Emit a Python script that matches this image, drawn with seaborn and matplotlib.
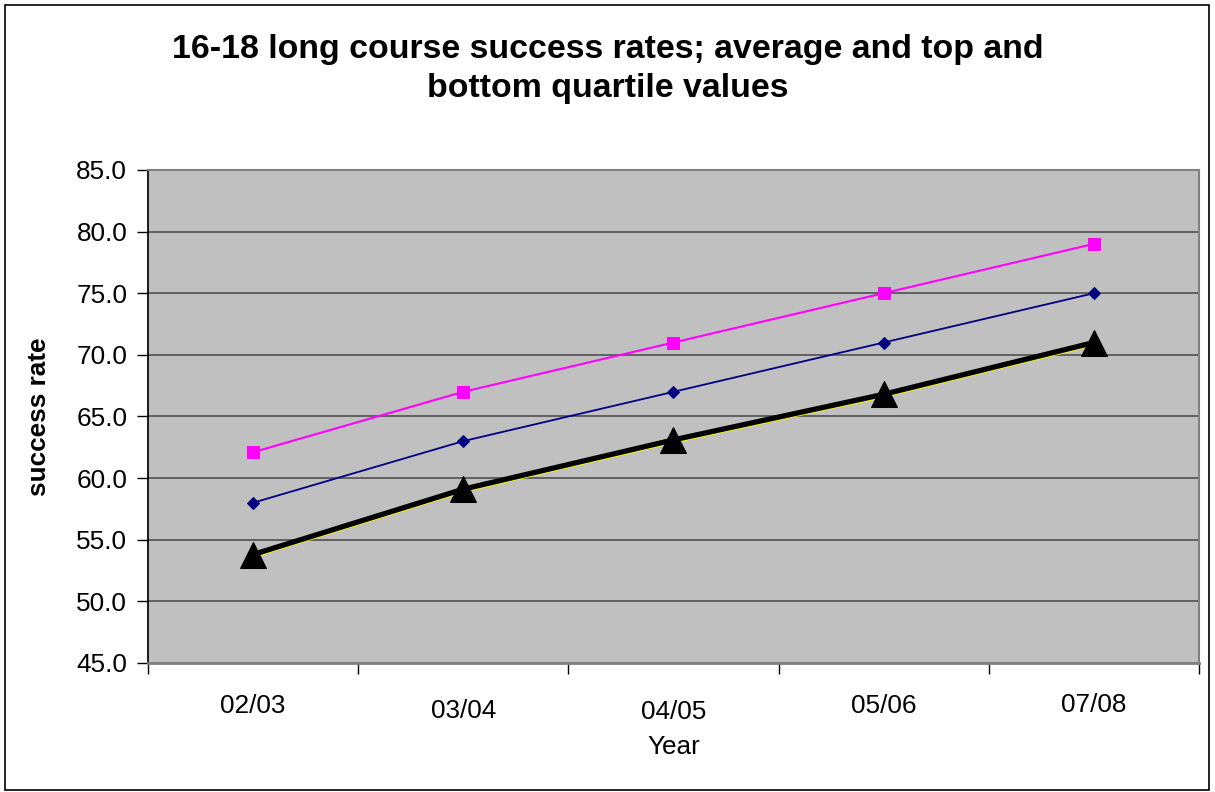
import matplotlib
matplotlib.use("Agg")
import matplotlib.pyplot as plt
import matplotlib.transforms as mtransforms
import seaborn as sns
import pandas as pd

years = ["02/03", "03/04", "04/05", "05/06", "07/08"]
top_quartile = [62.1, 67.0, 71.0, 75.0, 79.0]
average = [58.0, 63.0, 67.0, 71.0, 75.0]
bottom_quartile = [53.8, 59.1, 63.1, 66.8, 71.0]
college = [53.6, 58.9, 62.9, 66.6, 70.8]

sns.set_theme(style="white")
plt.rcParams["font.family"] = ["Liberation Sans", "DejaVu Sans"]
plt.rcParams["text.color"] = "black"
plt.rcParams["axes.labelcolor"] = "black"
plt.rcParams["xtick.color"] = "black"
plt.rcParams["ytick.color"] = "black"

fig = plt.figure(figsize=(12.15, 7.92), dpi=100)
ax = fig.add_axes([0.1218, 0.1629, 0.865, 0.6225])
ax.set_facecolor("#C0C0C0")

pos = list(range(len(years)))
series = [
    (college, "#FFFF00", 1.5, "^", 15),
    (top_quartile, "#FF00FF", 1.5, "s", 8),
    (average, "#000080", 1.3, "D", 6),
    (bottom_quartile, "#000000", 3.8, "^", 19),
]
for vals, col, lw, mk, ms in series:
    df = pd.DataFrame({"pos": pos, "val": vals})
    sns.lineplot(data=df, x="pos", y="val", ax=ax, color=col, linewidth=lw,
                 marker=mk, markersize=ms, markeredgecolor=col,
                 markerfacecolor=col, zorder=3)

ax.set_xlim(-0.5, len(years) - 0.5)
ax.set_ylim(45, 85)
ax.set_yticks(range(45, 90, 5))
ax.set_yticklabels([f"{v:.1f}" for v in range(45, 90, 5)], fontsize=18.8)
ax.yaxis.grid(True, color="#606060", linewidth=1.4)
ax.set_axisbelow(True)

# category axis: ticks at boundaries, labels at centres
ax.set_xticks([p - 0.5 for p in pos] + [len(years) - 0.5])
ax.set_xticklabels([])
ax.set_xticks(pos, minor=True)
ax.set_xticklabels(years, minor=True, fontsize=18.8)
ax.tick_params(axis="x", which="major", direction="out", length=8, width=1,
               color="black", bottom=True)
ax.tick_params(axis="x", which="minor", length=0, pad=22)
ax.tick_params(axis="y", direction="out", length=8, width=1, color="black",
               left=True, pad=7)
offsets = [0, 5, 6, 0, -1]
for lab, off in zip(ax.get_xticklabels(minor=True), offsets):
    lab.set_transform(lab.get_transform() +
                      mtransforms.ScaledTranslation(0, -off / 100, fig.dpi_scale_trans))

for side in ["top", "right"]:
    ax.spines[side].set_color("#808080")
    ax.spines[side].set_linewidth(1.5)
ax.spines["left"].set_color("black")
ax.spines["bottom"].set_color("#808080")
ax.spines["bottom"].set_linewidth(2)

ax.set_xlabel("Year", fontsize=18.8, labelpad=8)
ax.set_ylabel("success rate", fontsize=18.8, fontweight="bold", labelpad=18)

fig.suptitle("16-18 long course success rates; average and top and\nbottom quartile values",
             fontsize=24.4, fontweight="bold", y=0.957, linespacing=1.35)

fig.patches.append(plt.Rectangle((0.004, 0.003), 0.991, 0.991, transform=fig.transFigure,
                                 fill=False, edgecolor="black", linewidth=1.2))

plt.savefig("out.png", dpi=100)
plt.close()
